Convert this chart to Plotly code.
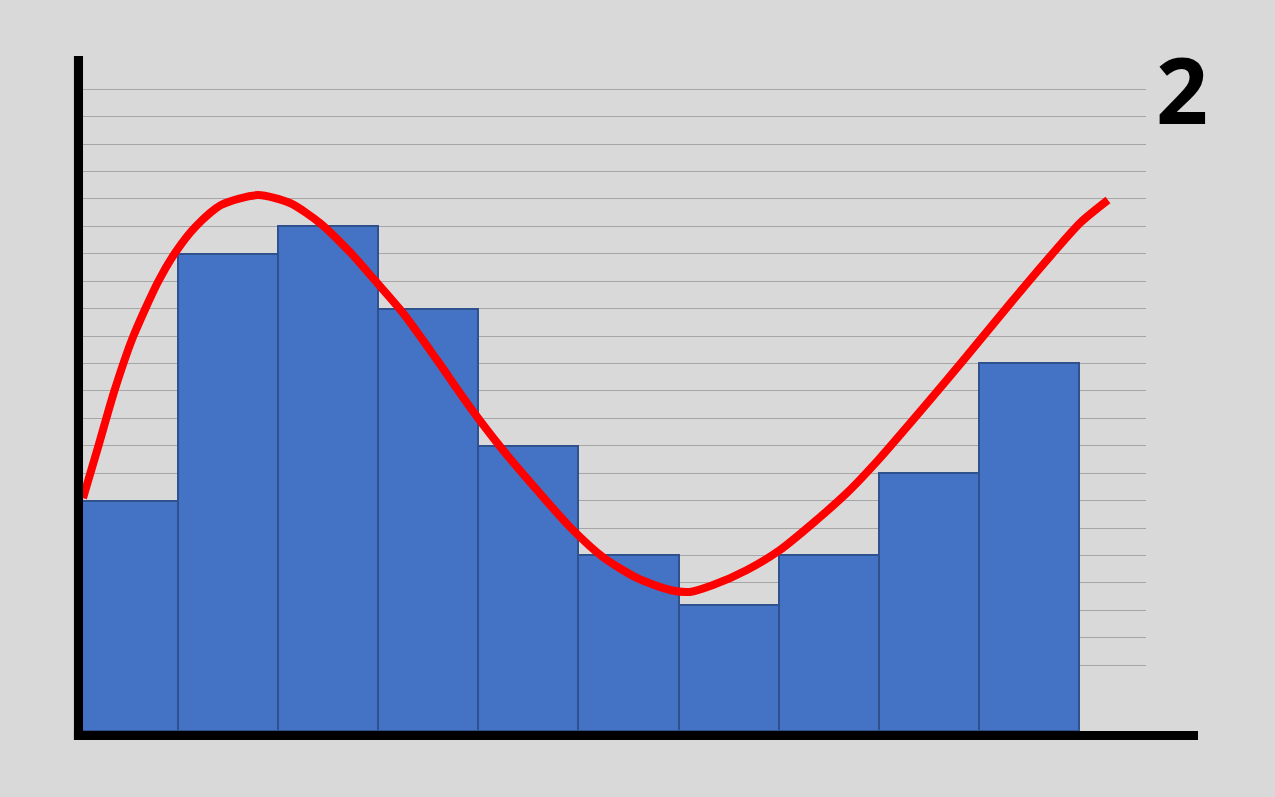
import plotly.graph_objects as go

# bar heights (grid units above baseline), one per bin
bins = list(range(10))
bar_heights = [8.4, 17.4, 18.4, 15.4, 10.4, 6.4, 4.6, 6.4, 9.4, 13.4]

# red fitted curve
curve_x = [-0.450, -0.293, -0.140, 0.049, 0.299, 0.469, 0.669, 0.929, 1.298,
           1.618, 1.918, 2.217, 2.447, 2.747, 3.086, 3.416, 3.746, 4.085,
           4.415, 4.745, 5.084, 5.414, 5.614, 5.844, 6.183, 6.513, 6.843,
           7.182, 7.512, 7.842, 8.181, 8.511, 8.841, 9.180, 9.510, 9.790]
curve_y = [8.49, 10.43, 12.36, 14.36, 16.37, 17.43, 18.37, 19.18, 19.54,
           19.25, 18.52, 17.46, 16.51, 15.24, 13.53, 11.81, 10.24, 8.79,
           7.44, 6.34, 5.58, 5.14, 5.07, 5.32, 5.87, 6.60, 7.58,
           8.68, 9.95, 11.34, 12.80, 14.25, 15.71, 17.17, 18.52, 19.36]

grid_levels = [2.4 + k for k in range(22)]
label = "2"

BG = "#D9D9D9"

fig = go.Figure()

fig.add_trace(go.Bar(
    x=bins,
    y=bar_heights,
    width=1,
    marker=dict(color="#4472C4", line=dict(color="#2F528F", width=2)),
    showlegend=False,
))

fig.add_trace(go.Scatter(
    x=curve_x,
    y=curve_y,
    mode="lines",
    line=dict(color="#FF0000", width=8, shape="spline", smoothing=0.7),
    showlegend=False,
))

# thick black axes
fig.add_shape(type="rect", xref="paper", yref="paper",
              x0=-0.0038, x1=0.0047, y0=-0.0133, y1=1,
              fillcolor="black", line=dict(width=0), layer="above")
fig.add_shape(type="rect", xref="paper", yref="paper",
              x0=-0.0038, x1=1.0487, y0=-0.0133, y1=0,
              fillcolor="black", line=dict(width=0), layer="above")

fig.add_annotation(
    text=f"<b>{label}</b>",
    xref="paper", yref="paper",
    x=1.0335, y=0.951,
    xanchor="center", yanchor="middle",
    showarrow=False,
    font=dict(family="Open Sans", size=91, color="black"),
)

fig.update_layout(
    width=1275,
    height=797,
    paper_bgcolor=BG,
    plot_bgcolor=BG,
    margin=dict(l=78, r=129, t=56, b=66),
    bargap=0,
    xaxis=dict(range=[-0.5, 10.17], showgrid=False, zeroline=False,
               showticklabels=False, showline=False),
    yaxis=dict(range=[0, 24.61], tickmode="array", tickvals=grid_levels,
               showgrid=True, gridcolor="#A6A6A6", gridwidth=1,
               zeroline=False, showticklabels=False, showline=False),
)

fig.write_html(
    "out.html",
    config={"displayModeBar": False},
    post_script="document.body.style.margin='0';document.body.style.overflow='hidden';",
)
